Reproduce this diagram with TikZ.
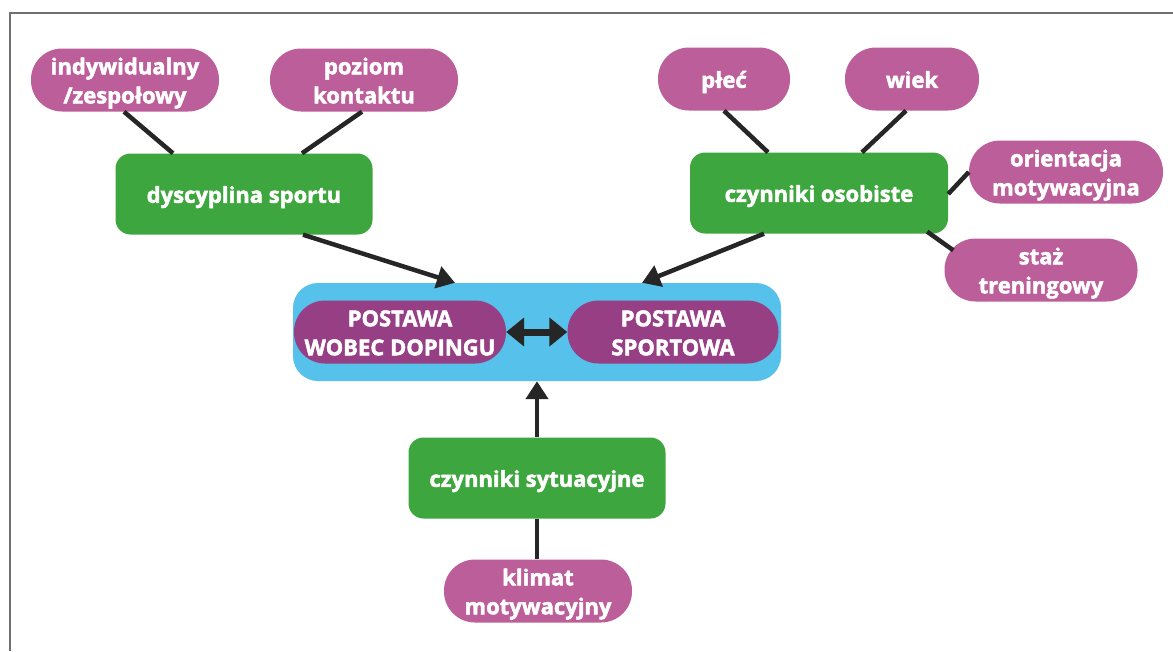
\documentclass[tikz,border=0pt]{standalone}
\usepackage{fontspec}
\setmainfont{Open Sans}[BoldFeatures={FakeBold=2.2}]
\usetikzlibrary{arrows.meta}
\definecolor{pinkc}{HTML}{BC5E99}
\definecolor{greenc}{HTML}{3EA63E}
\definecolor{bluec}{HTML}{56C1EA}
\definecolor{purplec}{HTML}{963F84}
\definecolor{darkc}{HTML}{262626}
\definecolor{framec}{HTML}{707070}
\newcommand\tbox[1]{\raisebox{-3pt}[\height][\depth]{\begin{tabular}{@{}c@{}}#1\end{tabular}}}
\tikzset{
  txt/.style={text=white, font=\fontsize{22}{29}\selectfont\bfseries, inner sep=0pt},
  pill/.style={txt, fill=pinkc, rounded corners=31pt, minimum width=188pt, minimum height=63pt},
  gbox/.style={txt, fill=greenc, rounded corners=15pt, minimum width=257pt, minimum height=81pt},
  ppill/.style={txt, fill=purplec, rounded corners=31pt, minimum width=212pt, minimum height=63pt},
  link/.style={draw=darkc, line width=4.5pt},
  arr/.style={draw=darkc, line width=4.5pt, -{Triangle[length=18pt,width=22pt]}},
}
\begin{document}
\begin{tikzpicture}[x=1pt,y=-1pt]
\useasboundingbox (0,0) rectangle (1173,651);
\fill[white] (0,0) rectangle (1173,651);
\draw[framec, line width=1.5pt] (10,651) -- (10,13) -- (1173,13);

% central group
\node[fill=bluec, rounded corners=25pt, minimum width=488pt, minimum height=98pt, inner sep=0pt] (grp) at (537,332) {};
\node[ppill] (dop) at (400,332) {\tbox{POSTAWA\\WOBEC DOPINGU}};
\node[ppill, minimum width=211pt] (spo) at (673,332) {\tbox{POSTAWA\\SPORTOWA}};
\draw[draw=darkc, line width=7pt, {Triangle[length=18pt,width=28pt]}-{Triangle[length=18pt,width=28pt]}] (dop.east) -- (spo.west);

% left branch
\node[pill] (ind) at (125,80) {\tbox{indywidualny\\/zespołowy}};
\node[pill] (poz) at (364,80) {\tbox{poziom\\kontaktu}};
\node[gbox] (dys) at (244,194) {\tbox{dyscyplina sportu}};
\draw[link] ([xshift=-1pt]ind.south) -- ([xshift=-71pt]dys.north);
\draw[link] ([xshift=-2pt]poz.south) -- ([xshift=58pt]dys.north);
\draw[arr] ([xshift=59pt]dys.south) -- ([xshift=-82pt]grp.north);

% right branch
\node[pill, minimum width=132pt] (ple) at (724,79) {\tbox{płeć}};
\node[pill, minimum width=134pt] (wie) at (912,79) {\tbox{wiek}};
\node[gbox, minimum width=258pt] (oso) at (819,193) {\tbox{czynniki osobiste}};
\node[pill, minimum width=194pt] (ori) at (1066,172) {\tbox{orientacja\\motywacyjna}};
\node[pill, minimum width=193pt] (sta) at (1041,270) {\tbox{staż\\treningowy}};
\draw[link] (ple.south) -- ([xshift=-51pt]oso.north);
\draw[link] ([xshift=-6pt]wie.south) -- ([xshift=43pt]oso.north);
\draw[link] (ori.west) -- ([yshift=-1pt]oso.east);
\draw[link] ([xshift=-21pt,yshift=2pt]oso.south east) -- ([xshift=9pt,yshift=-12pt]sta.north west);
\draw[arr] ([xshift=-55pt]oso.south) -- ([xshift=105pt]grp.north);

% bottom branch
\node[gbox] (syt) at (537,478) {\tbox{czynniki sytuacyjne}};
\node[pill] (kli) at (538,591) {\tbox{klimat\\motywacyjny}};
\draw[arr] (syt.north) -- (grp.south);
\draw[link] (syt.south) -- (syt.south |- kli.north);
\end{tikzpicture}
\end{document}
